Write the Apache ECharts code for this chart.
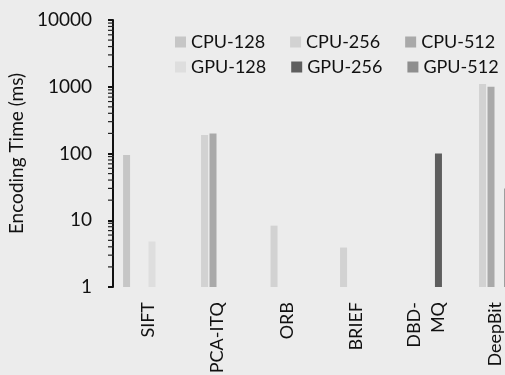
<!DOCTYPE html>
<html>
<head>
<meta charset="utf-8">
<script src="https://cdn.jsdelivr.net/npm/echarts@6/dist/echarts.min.js"></script>
<style>
html,body{margin:0;padding:0;background:#ececec;}
#c{width:505px;height:375px;}
</style>
</head>
<body>
<div id="c"></div>
<script>
// Data (ms, log scale)
var categories = ['SIFT', 'PCA-ITQ', 'ORB', 'BRIEF', 'DBD-\nMQ', 'DeepBit'];
var seriesNames = ['CPU-128', 'CPU-256', 'CPU-512', 'GPU-128', 'GPU-256', 'GPU-512'];
var cpu128 = [95, null, null, null, null, null];
var cpu256 = [null, 190, 8.3, 3.9, null, 1100];
var cpu512 = [null, 200, null, null, null, 1000];
var gpu128 = [4.8, null, null, null, null, null];
var gpu256 = [null, null, null, null, 100, 30];
var gpu512 = [null, null, null, null, null, null];
var yTickLabels = ['1', '10', '100', '1000', '10000'];
var minorTickValues = [2, 3, 4, 5, 6, 7, 8, 9, 20, 30, 40, 50, 60, 70, 80, 90,
  200, 300, 400, 500, 600, 700, 800, 900, 2000, 3000, 4000, 5000, 6000, 7000, 8000, 9000];

var seriesValues = [cpu128, cpu256, cpu512, gpu128, gpu256, gpu512];
var colors = ['#c6c6c6', '#d2d2d2', '#a9a9a9', '#dedede', '#5e5e5e', '#8e8e8e'];
var font = 'Lato, "Liberation Sans", sans-serif';

var chart = echarts.init(document.getElementById('c'), null, {renderer: 'canvas'});
var series = seriesNames.map(function (n, i) {
  return {
    name: n,
    type: 'bar',
    data: seriesValues[i],
    barWidth: 7,
    barGap: '21%',
    itemStyle: {color: colors[i]}
  };
});

// minor ticks on the log axis, placed through the axis scale
series.push({
  name: 'minorTicks',
  type: 'custom',
  silent: true,
  clip: false,
  data: minorTickValues.map(function (v) { return [0, v]; }),
  encode: {x: 0, y: 1},
  renderItem: function (params, api) {
    var p = api.coord([0, api.value(1)]);
    var half = api.size([1, 1])[0] / 2;
    var ax = p[0] - half;
    return {
      type: 'line',
      z2: 100,
      shape: {x1: ax - 5, y1: p[1], x2: ax + 1, y2: p[1]},
      style: {stroke: '#222', lineWidth: 1.2}
    };
  },
  z: 10
});

chart.setOption({
  backgroundColor: '#ececec',
  animation: false,
  color: colors,
  legend: [
    {
      data: seriesNames.slice(0, 3), left: 170, top: 28, width: 345, itemWidth: 11, itemHeight: 11, itemGap: 25,
      icon: 'rect', textStyle: {fontFamily: font, fontSize: 18, color: '#111'}
    },
    {
      data: seriesNames.slice(3, 6), left: 170, top: 53, width: 345, itemWidth: 11, itemHeight: 11, itemGap: 25,
      icon: 'rect', textStyle: {fontFamily: font, fontSize: 18, color: '#111'}
    }
  ],
  grid: {left: 113, width: 417, top: 20, bottom: 88, containLabel: false, outerBoundsMode: 'none'},
  xAxis: {
    type: 'category',
    data: categories,
    axisLine: {show: false},
    axisTick: {show: false},
    axisLabel: {rotate: 90, margin: 15, fontFamily: font, fontSize: 18, color: '#111', lineHeight: 24}
  },
  yAxis: {
    type: 'log',
    logBase: 10,
    min: 1,
    max: 10000,
    name: 'Encoding Time (ms)',
    nameLocation: 'middle',
    nameGap: 74,
    nameTextStyle: {fontFamily: font, fontSize: 19, color: '#111'},
    axisLine: {show: true, lineStyle: {color: '#111', width: 2}},
    axisTick: {show: true, length: 5, lineStyle: {color: '#111', width: 2}},
    splitLine: {show: false},
    axisLabel: {
      margin: 21, fontFamily: font, fontSize: 19, color: '#111',
      formatter: function (v) {
        var k = Math.round(Math.log10(v));
        return yTickLabels[k] !== undefined ? yTickLabels[k] : String(v);
      }
    }
  },
  series: series
});
</script>
</body>
</html>
